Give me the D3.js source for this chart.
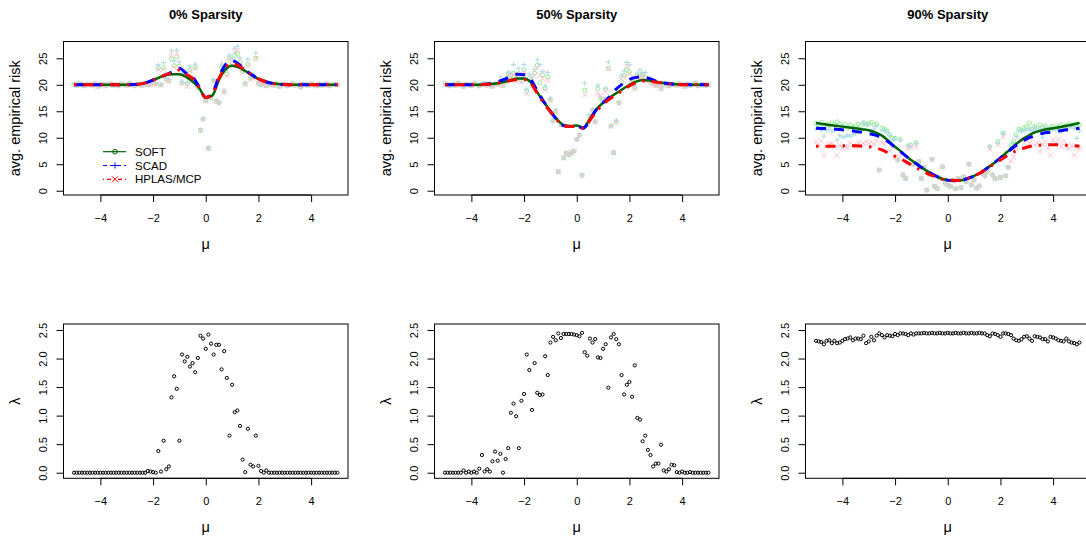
<!DOCTYPE html>
<html>
<head>
<meta charset="utf-8">
<script src="https://cdn.jsdelivr.net/npm/d3@7"></script>
<style>
  body { margin: 0; background: #fff; }
  svg text { font-family: "Liberation Sans", Arial, Helvetica, sans-serif; fill: #000; }
</style>
</head>
<body>
<svg id="chart" width="1086" height="538"></svg>
<script>
// mu grid used for the simulations (step 0.1) and for the fitted curves (step 0.25)
const mu = d3.range(101).map(i => (i - 50) / 10);
const muFit = d3.range(41).map(i => -5 + i * 0.25);

const titles = ['0% Sparsity', '50% Sparsity', '90% Sparsity'];
const methods = ['SOFT', 'SCAD', 'HPLAS/MCP'];
const muTicks = [-4, -2, 0, 2, 4];
const riskTicks = [0, 5, 10, 15, 20, 25];
const lambdaTicks = [0, 0.5, 1, 1.5, 2, 2.5];

// ---- avg. empirical risk, single runs (points) ----
const riskSoft0 = [20.1,19.9,20.2,20.0,19.8,20.1,20.0,19.9,20.2,19.7,
  20.0,20.1,19.8,20.0,20.2,19.9,20.0,19.8,20.1,20.0,
  19.9,20.2,20.0,19.8,20.1,20.0,19.9,20.3,20.0,20.1,
  20.4,20.2,23.2,20.0,23.2,21.0,20.8,24.9,23.6,25.3,
  23.5,20.4,22.0,20.2,22.8,21.0,23.3,19.5,11.4,13.5,
  17.0,8.0,17.5,20.8,16.9,16.6,23.3,18.7,22.0,25.0,
  24.0,25.5,25.8,24.2,22.5,20.2,23.8,21.2,21.5,25.0,
  20.3,20.0,20.2,19.8,20.1,20.0,19.9,20.2,19.7,20.0,
  20.1,19.8,20.0,20.2,19.9,20.0,19.6,20.1,20.0,19.9,
  20.2,20.0,19.8,20.1,19.9,20.0,20.2,19.8,20.0,20.1,20.0];
const riskScad0 = [20.1,19.9,20.2,20.0,19.8,20.1,20.0,19.9,20.2,19.7,
  20.0,20.1,19.8,20.0,20.2,19.9,20.0,19.8,20.1,20.0,
  19.9,20.2,20.0,19.8,20.1,20.0,19.9,20.3,20.0,20.1,
  20.5,20.3,23.8,20.1,24.2,21.3,21.0,26.4,24.5,26.5,
  24.3,20.6,22.6,20.4,23.5,21.3,23.9,19.7,11.5,13.6,
  17.1,8.0,17.6,20.9,17.0,16.7,23.9,18.9,22.8,25.6,
  25.0,26.9,27.3,25.0,23.2,20.4,24.8,21.6,22.0,26.0,
  20.3,20.0,20.2,19.8,20.1,20.0,19.9,20.2,19.7,20.0,
  20.1,19.8,20.0,20.2,19.9,20.0,19.6,20.1,20.0,19.9,
  20.2,20.0,19.8,20.1,19.9,20.0,20.2,19.8,20.0,20.1,20.0];
const riskHplas0 = [20.1,19.9,20.2,20.0,19.8,20.1,20.0,19.9,20.2,19.7,
  20.0,20.1,19.8,20.0,20.2,19.9,20.0,19.8,20.1,20.0,
  19.9,20.2,20.0,19.8,20.1,20.0,19.9,20.3,20.0,20.1,
  20.3,20.1,22.9,19.9,22.9,20.7,20.6,25.5,23.3,25.8,
  23.2,20.1,21.7,19.6,22.6,20.8,23.1,19.4,11.4,13.5,
  16.9,8.0,17.4,20.6,16.8,16.5,23.1,18.6,21.7,24.8,
  23.8,26.2,26.5,24.0,22.3,20.1,23.6,21.0,21.3,25.0,
  20.3,20.0,20.2,19.8,20.1,20.0,19.9,20.2,19.7,20.0,
  20.1,19.8,20.0,20.2,19.9,20.0,19.6,20.1,20.0,19.9,
  20.2,20.0,19.8,20.1,19.9,20.0,20.2,19.8,20.0,20.1,20.0];

const riskSoft1 = [20.2,20.0,19.8,20.1,19.9,20.3,20.0,19.7,20.1,20.0,
  19.9,20.2,20.0,19.8,20.1,20.2,19.9,20.0,19.7,20.1,
  20.1,20.5,19.9,20.6,22.0,21.6,22.2,20.9,22.1,20.8,
  22.8,18.8,21.3,20.5,22.2,23.7,20.4,21.9,19.3,21.5,
  17.2,13.2,15.0,3.6,12.5,6.2,7.1,6.8,7.2,7.5,
  9.7,10.5,2.9,19.0,12.6,14.1,15.2,13.0,19.3,17.4,
  17.3,19.1,23.1,12.2,7.2,13.0,16.6,20.6,21.8,22.8,
  22.4,21.0,19.4,21.7,21.7,21.9,21.3,20.9,20.5,20.2,
  19.9,20.1,19.3,20.0,20.2,19.8,20.0,20.1,19.9,20.2,
  20.0,19.7,20.1,19.9,20.0,20.3,19.8,20.0,20.1,19.9,20.0];
const riskScad1 = [20.2,20.0,19.8,20.1,19.9,20.3,20.0,19.7,20.1,20.0,
  19.9,20.2,20.0,19.8,20.1,20.2,19.9,20.0,19.7,20.1,
  20.3,21.5,20.2,21.2,22.4,22.2,23.8,21.4,23.1,21.0,
  23.8,19.2,22.0,21.4,22.9,24.7,23.8,22.5,19.8,22.3,
  17.4,13.2,15.2,3.6,12.6,6.2,7.1,6.8,7.2,7.5,
  9.7,10.5,2.9,20.3,12.7,14.2,15.3,13.1,19.9,17.6,
  17.1,19.4,24.3,12.2,7.2,13.3,16.7,21.7,22.6,24.2,
  23.8,21.4,19.8,22.2,22.8,22.3,22.3,21.3,20.8,20.4,
  20.0,20.2,19.4,20.1,20.2,19.8,20.0,20.1,19.9,20.2,
  20.0,19.7,20.1,19.9,20.0,20.3,19.8,20.0,20.1,19.9,20.0];
const riskHplas1 = [20.2,20.0,19.8,20.1,19.9,20.3,20.0,19.7,20.1,20.0,
  19.9,20.2,20.0,19.8,20.1,20.2,19.9,20.0,19.7,20.1,
  20.0,20.4,19.8,20.5,21.8,21.5,21.9,20.6,21.8,20.5,
  22.5,18.3,20.9,20.3,21.8,23.2,21.8,21.2,19.0,20.8,
  17.0,13.2,14.8,3.6,12.4,6.2,7.1,6.8,7.2,7.5,
  9.7,10.5,2.9,18.1,12.5,14.0,15.0,13.0,18.3,18.0,
  17.2,18.6,23.0,12.2,7.2,12.9,16.5,21.0,21.5,23.5,
  22.1,20.8,19.2,21.4,21.4,21.6,21.0,20.6,20.3,20.0,
  19.8,20.0,19.3,19.9,20.2,19.8,20.0,20.1,19.9,20.2,
  20.0,19.7,20.1,19.9,20.0,20.3,19.8,20.0,20.1,19.9,20.0];

const riskSoft2 = [12.7,12.4,12.9,12.2,12.6,12.3,12.8,12.5,13.0,12.6,
  12.1,12.5,11.8,12.4,12.0,12.2,12.6,12.3,12.8,12.5,
  12.7,12.9,12.4,12.6,3.9,11.8,11.6,11.3,10.5,9.9,
  9.9,5.8,9.7,3.0,2.3,8.4,8.6,5.0,9.1,5.5,
  2.3,4.4,0.1,3.1,5.9,0.8,0.4,2.4,4.5,1.4,
  1.1,0.8,2.0,0.4,2.3,0.6,2.6,1.7,5.0,1.1,
  2.0,0.5,0.9,3.3,2.8,3.6,8.3,3.0,2.3,9.3,
  2.5,10.9,2.8,4.4,8.6,9.4,10.6,11.6,11.4,11.9,
  12.0,12.8,11.7,12.1,11.8,12.4,12.0,12.2,11.6,11.9,
  12.2,11.8,12.0,12.5,11.9,12.3,12.6,12.4,12.5,12.6,12.4];
const riskScad2 = [11.6,11.9,11.3,10.3,11.4,11.6,11.1,11.5,9.6,10.4,
  10.1,10.2,10.5,10.3,10.6,10.8,11.2,11.4,12.8,12.6,
  12.4,11.2,11.6,12.2,3.9,11.3,11.4,11.0,10.4,9.6,
  9.7,5.8,9.5,3.0,2.3,8.6,8.3,5.0,8.9,5.5,
  2.3,4.4,0.1,3.1,5.9,0.8,0.4,2.4,4.5,1.4,
  1.1,0.8,2.0,0.4,2.3,0.6,2.6,1.7,5.0,1.1,
  2.0,0.5,0.9,3.3,2.8,3.6,8.4,3.0,2.3,9.0,
  2.5,10.8,2.8,4.4,8.2,9.0,10.2,11.4,11.2,11.3,
  11.5,11.6,11.4,11.9,11.4,11.7,10.1,11.9,11.0,11.3,
  11.9,11.4,12.0,11.1,11.6,11.5,11.9,12.1,11.8,9.9,11.3];
const riskHplas2 = [9.2,8.4,9.4,6.7,8.3,8.8,9.0,8.2,6.7,8.6,
  8.0,8.4,8.1,9.0,8.5,8.3,9.1,8.6,8.9,9.3,
  8.9,9.2,8.7,9.4,3.9,9.0,8.8,9.6,7.5,8.2,
  6.2,5.8,6.6,3.0,2.3,7.9,8.4,5.0,8.2,5.5,
  2.3,4.4,0.1,3.1,5.9,0.8,0.4,2.4,4.5,1.4,
  1.1,0.8,2.0,0.4,2.3,0.6,2.6,1.7,5.0,1.1,
  2.0,0.5,0.9,3.3,2.8,3.6,7.9,3.0,2.3,8.6,
  2.5,10.1,2.8,4.4,5.5,6.4,8.1,9.6,9.8,9.0,
  9.5,8.9,9.8,8.6,9.0,7.4,8.7,9.3,8.1,6.7,
  9.6,8.9,9.8,8.4,9.4,8.2,8.0,8.6,6.7,8.1,7.9];

// ---- smoothed risk curves (on muFit) ----
const fitSoft0 = [20.0,20.0,20.0,20.0,20.0,20.0,20.0,20.0,20.0,20.05,20.15,20.4,20.9,21.4,21.9,22.0,22.0,21.5,20.6,19.4,17.6,18.0,20.9,22.9,23.6,23.3,22.6,21.8,21.1,20.7,20.35,20.15,20.05,20.0,20.0,20.0,20.0,20.0,20.0,20.0,20.0];
const fitScad0 = [20.0,20.0,20.0,20.0,20.0,20.0,20.0,20.0,20.0,20.05,20.15,20.4,20.9,21.4,21.9,22.5,23.1,22.2,21.5,19.6,17.6,18.4,21.5,23.8,24.6,23.9,22.8,21.9,21.1,20.6,20.3,20.15,20.05,20.0,20.0,20.0,20.0,20.0,20.0,20.0,20.0];
const fitHplas0 = [20.0,20.0,20.0,20.0,20.0,20.0,20.0,20.0,20.0,20.05,20.15,20.4,20.9,21.4,21.9,22.3,22.8,22.0,21.2,19.5,17.6,18.3,21.2,23.3,24.0,23.6,22.7,21.9,21.1,20.6,20.3,20.15,20.05,20.0,20.0,20.0,20.0,20.0,20.0,20.0,20.0];

const fitSoft1 = [20.0,20.0,20.0,20.0,20.0,20.0,20.05,20.15,20.3,20.55,20.9,21.2,21.2,20.5,18.6,16.7,15.1,13.5,12.4,12.2,12.3,11.9,13.6,15.4,16.6,17.6,18.4,19.2,20.0,20.6,20.9,20.8,20.6,20.4,20.25,20.1,20.05,20.0,20.0,20.0,20.0];
const fitScad1 = [20.0,20.0,20.0,20.0,20.0,20.05,20.1,20.3,20.6,21.0,21.6,22.0,21.9,21.0,18.9,16.8,15.0,13.4,12.3,12.1,12.2,11.8,13.4,15.3,16.6,17.8,19.2,20.2,21.0,21.4,21.5,21.2,20.7,20.4,20.2,20.1,20.05,20.0,20.0,20.0,20.0];
const fitHplas1 = [20.0,20.0,20.0,20.0,20.0,20.0,20.05,20.15,20.3,20.5,20.8,21.0,21.0,20.3,18.4,16.5,14.9,13.3,12.3,12.1,12.1,11.8,13.3,15.0,16.3,17.3,18.1,19.0,19.8,20.4,20.7,20.7,20.5,20.3,20.2,20.1,20.0,20.0,20.0,20.0,20.0];

const fitSoft2 = [12.8,12.6,12.4,12.25,12.1,11.95,11.8,11.6,11.4,11.0,10.4,9.4,8.3,7.3,6.2,5.3,4.4,3.6,2.9,2.3,2.0,1.9,1.95,2.3,2.8,3.4,4.3,5.2,6.2,7.3,8.4,9.4,10.2,10.9,11.3,11.6,11.8,12.0,12.25,12.5,12.8];
const fitScad2 = [11.8,11.75,11.7,11.6,11.5,11.4,11.2,11.0,10.8,10.5,10.0,9.2,8.2,7.2,6.2,5.3,4.4,3.6,2.9,2.3,2.0,1.9,1.95,2.3,2.8,3.4,4.3,5.2,6.2,7.2,8.2,9.1,9.8,10.3,10.7,11.0,11.1,11.3,11.5,11.6,11.8];
const fitHplas2 = [8.4,8.4,8.4,8.4,8.45,8.5,8.5,8.4,8.3,8.1,7.7,7.1,6.5,5.9,5.2,4.5,3.8,3.2,2.7,2.2,2.0,1.95,2.0,2.3,2.8,3.4,4.2,5.0,5.8,6.6,7.3,7.8,8.2,8.5,8.6,8.7,8.7,8.65,8.6,8.5,8.4];

// ---- selected lambda ----
const lambda0 = [0,0,0,0,0,0,0,0,0,0,
  0,0,0,0,0,0,0,0,0,0,
  0,0,0,0,0,0,0,0,0.03,0.02,
  0.01,0,0.38,0.02,0.56,0.06,0.11,1.32,1.69,1.47,
  0.56,2.07,1.95,2.03,1.86,1.92,1.76,2.01,2.40,2.35,
  2.17,2.42,2.26,2.07,2.24,2.24,1.81,2.13,1.66,0.65,
  1.54,1.06,1.09,0.82,0.23,0.01,0.77,0.14,0.11,0.65,
  0.12,0.03,0,0.04,0,0,0,0,0,0,
  0,0,0,0,0,0,0,0,0,0,
  0,0,0,0,0,0,0,0,0,0,0];
const lambda1 = [0,0,0,0,0,0,0,0.04,0,0.02,
  0,0.02,0,0.07,0.31,0.02,0.06,0.02,0.2,0.37,
  0.21,0.33,0,0.24,0.43,1.05,1.21,0.99,0.43,1.26,
  1.38,2.07,1.80,1.10,1.92,1.40,1.36,1.37,2.04,1.71,
  2.28,2.38,2.32,2.44,2.36,2.43,2.43,2.43,2.43,2.42,
  2.41,2.39,2.45,2.11,2.05,2.35,2.28,2.34,2.02,2.01,
  2.17,2.25,1.49,2.37,2.43,2.34,2.25,1.71,1.37,1.54,
  1.59,1.33,1.88,0.96,0.93,0.55,0.65,0.40,0.31,0.11,
  0.16,0.16,0.49,0.04,0.02,0.06,0.14,0.13,0.01,0,
  0.02,0,0,0.01,0,0,0,0,0,0,0];
const lambda2 = [2.31,2.30,2.29,2.25,2.31,2.32,2.27,2.31,2.27,2.28,
  2.31,2.34,2.35,2.37,2.32,2.35,2.35,2.34,2.40,2.27,
  2.30,2.38,2.32,2.40,2.44,2.41,2.37,2.41,2.40,2.39,
  2.43,2.41,2.44,2.44,2.43,2.41,2.44,2.42,2.44,2.44,
  2.44,2.45,2.44,2.44,2.45,2.44,2.44,2.45,2.44,2.44,
  2.45,2.44,2.44,2.45,2.44,2.44,2.45,2.44,2.44,2.45,
  2.44,2.44,2.45,2.44,2.44,2.41,2.39,2.44,2.43,2.41,
  2.38,2.44,2.44,2.43,2.41,2.35,2.32,2.31,2.34,2.38,
  2.39,2.35,2.31,2.39,2.38,2.37,2.34,2.34,2.30,2.38,
  2.37,2.35,2.32,2.31,2.30,2.35,2.30,2.28,2.27,2.25,2.28];

const riskPts = [[riskSoft0, riskScad0, riskHplas0], [riskSoft1, riskScad1, riskHplas1], [riskSoft2, riskScad2, riskHplas2]];
const riskFits = [[fitSoft0, fitScad0, fitHplas0], [fitSoft1, fitScad1, fitHplas1], [fitSoft2, fitScad2, fitHplas2]];
const lambdas = [lambda0, lambda1, lambda2];

// ---- layout & styles ----
const svg = d3.select('#chart');
const colLeft = [63.5, 434.5, 805.5];
const plotW = 284.5;
const topRow = {top: 41.5, bottom: 195};
const botRow = {top: 324, bottom: 478.3};

const styles = [
  {line: '#006400', width: 2.5, dash: null, pt: '#90ee90', shape: 'circle'},
  {line: '#0000ff', width: 3, dash: '10,8', pt: '#add8e6', shape: 'plus'},
  {line: '#ff0000', width: 3, dash: '2.5,7,10,7', pt: '#ffc0cb', shape: 'cross'}
];

const yRisk = d3.scaleLinear().domain([-0.81, 28.17]).range([topRow.bottom, topRow.top]);
const yLam = d3.scaleLinear().domain([-0.098, 2.605]).range([botRow.bottom, botRow.top]);
const minus = d => d < 0 ? '\u2212' + Math.abs(d) : String(d);

function symbol(sel, shape, color, s) {
  if (shape === 'circle') {
    sel.append('circle').attr('r', s).attr('fill', 'none').attr('stroke', color);
  } else {
    const d = shape === 'plus'
      ? `M${-s},0H${s}M0,${-s}V${s}`
      : `M${-s},${-s}L${s},${s}M${-s},${s}L${s},${-s}`;
    sel.append('path').attr('d', d).attr('fill', 'none').attr('stroke', color);
  }
}

function frame(g, x, y, row, yTicks, yFmt, yLabel) {
  const left = x.range()[0];
  g.append('rect').attr('x', left).attr('y', row.top)
    .attr('width', plotW).attr('height', row.bottom - row.top)
    .attr('fill', 'none').attr('stroke', '#000');

  const xa = g.append('g').attr('transform', `translate(0,${row.bottom})`)
    .call(d3.axisBottom(x).tickValues(muTicks).tickSize(7).tickPadding(12).tickFormat(minus));
  xa.attr('font-size', 11);
  xa.select('.domain').attr('d', `M${x(muTicks[0])},0H${x(muTicks[muTicks.length - 1])}`);

  const ya = g.append('g').attr('transform', `translate(${left},0)`)
    .call(d3.axisLeft(y).tickValues(yTicks).tickSize(7).tickFormat(yFmt));
  ya.attr('font-size', 11);
  ya.select('.domain').attr('d', `M0,${y(yTicks[0])}V${y(yTicks[yTicks.length - 1])}`);
  ya.selectAll('.tick text')
    .attr('x', 0).attr('y', -17).attr('dy', null)
    .attr('transform', 'rotate(-90)').attr('text-anchor', 'middle');

  g.append('text').attr('x', left + plotW / 2).attr('y', row.bottom + 53.5)
    .attr('text-anchor', 'middle').attr('font-size', 14.5).text('\u03bc');
  g.append('text')
    .attr('transform', `translate(${left - 44},${(row.top + row.bottom) / 2}) rotate(-90)`)
    .attr('text-anchor', 'middle').attr('font-size', 14.5).text(yLabel);
}

for (let c = 0; c < 3; c++) {
  const x = d3.scaleLinear().domain([-5.4, 5.4]).range([colLeft[c], colLeft[c] + plotW]);

  // top: risk
  const gt = svg.append('g');
  frame(gt, x, yRisk, topRow, riskTicks, d => String(d), 'avg. empirical risk');
  gt.append('text').attr('x', colLeft[c] + plotW / 2).attr('y', 19)
    .attr('text-anchor', 'middle').attr('font-size', 13).attr('font-weight', 'bold')
    .text(titles[c]);

  riskPts[c].forEach((vals, m) => {
    gt.append('g').selectAll('g').data(vals).join('g')
      .attr('transform', (d, i) => `translate(${x(mu[i])},${yRisk(d)})`)
      .each(function () { symbol(d3.select(this), styles[m].shape, styles[m].pt, m === 0 ? 2 : 2.5); });
  });

  riskFits[c].forEach((vals, m) => {
    const line = d3.line().x((d, i) => x(muFit[i])).y(d => yRisk(d)).curve(d3.curveMonotoneX);
    gt.append('path').datum(vals).attr('d', line)
      .attr('fill', 'none').attr('stroke', styles[m].line)
      .attr('stroke-width', styles[m].width)
      .attr('stroke-dasharray', styles[m].dash);
  });

  // bottom: lambda
  const gb = svg.append('g');
  frame(gb, x, yLam, botRow, lambdaTicks, d3.format('.1f'), '\u03bb');
  gb.append('g').selectAll('circle').data(lambdas[c]).join('circle')
    .attr('cx', (d, i) => x(mu[i])).attr('cy', d => yLam(d)).attr('r', 1.6)
    .attr('fill', 'none').attr('stroke', '#000').attr('stroke-width', 1);
}

// legend (first panel)
const leg = svg.append('g').attr('transform', 'translate(103,151.7)');
methods.forEach((name, m) => {
  const row = leg.append('g').attr('transform', `translate(0,${m * 13.8})`);
  row.append('line').attr('x1', 0).attr('x2', 23).attr('y1', 0).attr('y2', 0)
    .attr('stroke', styles[m].line).attr('stroke-width', 1.2)
    .attr('stroke-dasharray', m === 1 ? '4,3' : m === 2 ? '1,3,4,3' : null);
  const mk = row.append('g').attr('transform', 'translate(12,0)');
  symbol(mk, styles[m].shape, styles[m].line, m === 0 ? 2.3 : 3);
  row.append('text').attr('x', 32).attr('y', 0).attr('dy', '0.35em')
    .attr('font-size', 11.5).text(name);
});
</script>
</body>
</html>
